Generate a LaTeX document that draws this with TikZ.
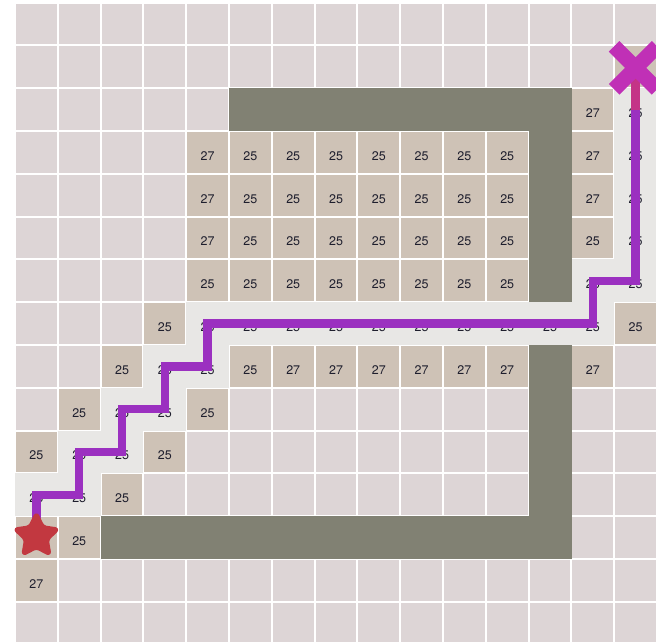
\documentclass[tikz,border=0pt]{standalone}
\usepackage{fontspec}
\setmainfont{TeX Gyre Heros}
\usetikzlibrary{shapes.geometric,shapes.misc}
\definecolor{unv}{RGB}{221,213,214}
\definecolor{vis}{RGB}{206,194,182}
\definecolor{wallc}{RGB}{129,129,115}
\definecolor{pathbg}{RGB}{232,231,229}
\definecolor{pathln}{RGB}{155,48,192}
\definecolor{goalln}{RGB}{196,52,135}
\definecolor{goalc}{RGB}{192,48,182}
\definecolor{startc}{RGB}{194,56,64}
\definecolor{txt}{RGB}{30,30,45}
\tikzset{
  cellbox/.style={draw=none, minimum size=40.8pt, inner sep=0pt, outer sep=0pt},
  unvcell/.style={cellbox, fill=unv},
  viscell/.style={cellbox, fill=vis},
  pathcell/.style={cellbox, fill=pathbg, minimum size=42.9pt},
  wallcell/.style={cellbox, fill=wallc, minimum size=43pt},
  lbl/.style={inner sep=0pt, font=\fontsize{12.5}{14}\selectfont, text=txt},
  pathline/.style={draw=pathln, line width=8.5pt, line join=miter, line cap=butt},
  goalline/.style={draw=goalln, line width=8.5pt, line cap=butt},
  goalmark/.style={cross out, draw=goalc, line width=15pt, minimum size=28pt, inner sep=0pt},
  startmark/.style={star, star points=5, star point ratio=2.0, fill=startc, draw=startc,
    line width=3pt, line join=round, rounded corners=3pt, minimum size=46pt, inner sep=0pt},
}
% position of cell (c,r)
\newcommand{\cellat}[2]{({15pt+(#1+0.5)*42.8pt},{-2.6pt-(#2+0.5)*42.8pt})}
\begin{document}
\begin{tikzpicture}
\useasboundingbox[fill=white] (0,0) rectangle (656pt,-641pt);
% unvisited cells
\foreach \r in {0,...,14}{
  \foreach \c in {0,...,14}{
    \node[unvcell] (u-\c-\r) at \cellat{\c}{\r} {};
  }
}
% visited cells
\foreach \c/\r/\t in {14/1/{},13/2/27,4/3/27,13/3/27,4/4/27,13/4/27,4/5/27,13/5/25,4/6/25,
  3/7/25,14/7/25,2/8/25,5/8/25,6/8/27,7/8/27,8/8/27,9/8/27,10/8/27,11/8/27,13/8/27,
  1/9/25,4/9/25,0/10/25,3/10/25,2/11/25,0/12/{},1/12/25,0/13/27}{
  \node[viscell] (v-\c-\r) at \cellat{\c}{\r} {};
  \node[lbl] (t-\c-\r) at ([yshift=-3.5pt]v-\c-\r.center) {\t};
}
\foreach \r in {3,...,6}{
  \foreach \c in {5,...,11}{
    \node[viscell] (v-\c-\r) at \cellat{\c}{\r} {};
    \node[lbl] (t-\c-\r) at ([yshift=-3.5pt]v-\c-\r.center) {25};
  }
}
% path cells
\foreach \c/\r in {0/11,1/11,1/10,2/10,2/9,3/9,3/8,4/8,4/7,5/7,6/7,7/7,8/7,9/7,10/7,11/7,12/7,13/7,
  13/6,14/6,14/5,14/4,14/3,14/2}{
  \node[pathcell] (p-\c-\r) at \cellat{\c}{\r} {};
}
\foreach \c/\r in {0/11,1/11,1/10,2/10,2/9,3/9,3/8,4/8,4/7,5/7,6/7,7/7,8/7,9/7,10/7,11/7,12/7,13/7,
  13/6,14/6,14/5,14/4,14/3,14/2}{
  \node[lbl] (pt-\c-\r) at ([yshift=-3.5pt]p-\c-\r.center) {25};
}
% walls
\foreach \c/\r in {5/2,6/2,7/2,8/2,9/2,10/2,11/2,12/2,12/3,12/4,12/5,12/6,
  12/8,12/9,12/10,12/11,2/12,3/12,4/12,5/12,6/12,7/12,8/12,9/12,10/12,11/12,12/12}{
  \node[wallcell] (w-\c-\r) at \cellat{\c}{\r} {};
}
% path
\draw[pathline] (v-0-12.center) -- (p-0-11.center) -- (p-1-11.center) -- (p-1-10.center)
  -- (p-2-10.center) -- (p-2-9.center) -- (p-3-9.center) -- (p-3-8.center) -- (p-4-8.center)
  -- (p-4-7.center) -- (p-13-7.center) -- (p-13-6.center) -- (p-14-6.center) -- (p-14-2.center);
\draw[goalline] (p-14-2.center) -- (v-14-1.center);
% goal and start
\node[goalmark] (goal) at ([yshift=-1pt]v-14-1.center) {};
\node[startmark] (start) at ([yshift=1.5pt]v-0-12.center) {};
\end{tikzpicture}
\end{document}
